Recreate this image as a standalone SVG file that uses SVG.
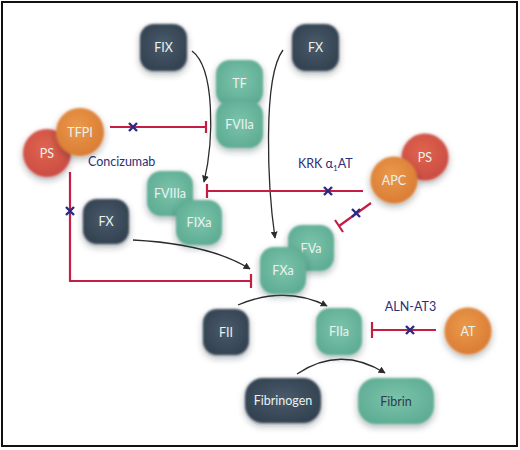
<svg xmlns="http://www.w3.org/2000/svg" width="520" height="450" viewBox="0 0 520 450">
<defs>
<style>
.lbl{font-family:Lato,"Open Sans","Liberation Sans",sans-serif;font-size:12.5px;text-anchor:middle;dominant-baseline:central}
.lw{fill:#eaf2f0}
.ld{fill:#2e3d4a}
.drug{font-family:Lato,"Open Sans","Liberation Sans",sans-serif;font-size:12.5px;fill:#2f2d78}
.dark{fill:url(#gDark);filter:url(#sh)}
.green{fill:url(#gGreen);filter:url(#sh)}
.orange{fill:url(#gOrange);filter:url(#sh)}
.red{fill:url(#gRed);filter:url(#sh)}
.arr{fill:none;stroke:#2b2b2b;stroke-width:1.3;marker-end:url(#ah)}
.inh{fill:none;stroke:#c41e45;stroke-width:2.2}
.x{stroke:#2b2a80;stroke-width:2.4;stroke-linecap:butt}
</style>
<radialGradient id="gDark" cx="50%" cy="45%" r="65%"><stop offset="0" stop-color="#4a5b6b"/><stop offset="1" stop-color="#2f3e4d"/></radialGradient>
<radialGradient id="gGreen" cx="50%" cy="45%" r="65%"><stop offset="0" stop-color="#7cc4ac"/><stop offset="1" stop-color="#5aa990"/></radialGradient>
<radialGradient id="gOrange" cx="45%" cy="40%" r="65%"><stop offset="0" stop-color="#ea9a4c"/><stop offset="1" stop-color="#d97a32"/></radialGradient>
<radialGradient id="gRed" cx="45%" cy="40%" r="65%"><stop offset="0" stop-color="#e0654f"/><stop offset="1" stop-color="#c94a42"/></radialGradient>
<filter id="sh" x="-40%" y="-40%" width="180%" height="190%">
<feGaussianBlur in="SourceGraphic" stdDeviation="0.8" result="soft"/>
<feGaussianBlur in="SourceAlpha" stdDeviation="3.5" result="b"/>
<feOffset in="b" dy="2.5" result="o"/>
<feFlood flood-color="#1a2a30" flood-opacity="0.35"/>
<feComposite in2="o" operator="in" result="s"/>
<feMerge><feMergeNode in="s"/><feMergeNode in="soft"/></feMerge>
</filter>
<marker id="ah" viewBox="0 0 10 10" refX="9" refY="5" markerWidth="7" markerHeight="7" orient="auto" markerUnits="userSpaceOnUse"><path d="M0,0 L10,5 L0,10 z" fill="#2b2b2b"/></marker>
</defs>
<rect x="2" y="2" width="515" height="444" fill="#fff" stroke="#111" stroke-width="2"/>

<g id="connectors">
<path class="arr" d="M192,51 C215,68 214,140 204,182"/>
<path class="arr" d="M283,50 C262,78 268,190 275,238"/>
<path class="arr" d="M133,240 Q210,244 250,269"/>
<path class="arr" d="M238,305 Q285,285 327,306"/>
<path class="arr" d="M297,374 Q340,345 385,373"/>
<path class="inh" d="M110,127 H206 M206,121 V133"/>
<path class="x" d="M129,123 L137,131 M137,123 L129,131"/>
<path class="inh" d="M363,191 H207 M207,184 V198"/>
<path class="x" d="M324,187 L332,195 M332,187 L324,195"/>
<path class="inh" d="M371,203 L339,226 M335,220 L343,232"/>
<path class="x" d="M352,209 L360,217 M360,209 L352,217"/>
<path class="inh" d="M70,172 V281 H251 M251,274 V288"/>
<path class="x" d="M66,207 L74,215 M74,207 L66,215"/>
<path class="inh" d="M436,330 H372 M372,322 V338"/>
<path class="x" d="M406,326 L414,334 M414,326 L406,334"/>
</g>

<g id="FIX"><rect class="dark" x="140" y="24" width="47" height="47" rx="14"/><text class="lbl lw" x="163.5" y="47.5">FIX</text></g>
<g id="FX_top"><rect class="dark" x="292" y="24" width="47" height="47" rx="14"/><text class="lbl lw" x="315.5" y="47.5">FX</text></g>
<g id="TF"><rect class="green" x="216" y="60" width="47" height="46" rx="14"/><text class="lbl lw" x="239.5" y="83">TF</text></g>
<g id="FVIIa"><rect class="green" x="216" y="101" width="47" height="47" rx="14"/><text class="lbl lw" x="239.5" y="124.5">FVIIa</text></g>
<g id="PS_left"><circle class="red" cx="47" cy="153" r="24"/><text class="lbl lw" x="47" y="153">PS</text></g>
<g id="TFPI"><circle class="orange" cx="80" cy="132" r="24"/><text class="lbl lw" x="80" y="132">TFPI</text></g>
<text class="drug" x="88" y="166">Concizumab</text>
<g id="FX_mid"><rect class="dark" x="83" y="199" width="46" height="45" rx="14"/><text class="lbl lw" x="106" y="221.5">FX</text></g>
<g id="FVIIIa"><rect class="green" x="147" y="171" width="46" height="45" rx="14"/><text class="lbl lw" x="170" y="193.5">FVIIIa</text></g>
<g id="FIXa"><rect class="green" x="176" y="200" width="46" height="45" rx="14"/><text class="lbl lw" x="199" y="222.5">FIXa</text></g>
<text class="drug" x="298" y="168">KRK α<tspan font-size="8" dy="3">1</tspan><tspan dy="-3">AT</tspan></text>
<g id="PS_right"><circle class="red" cx="425" cy="157" r="23.5"/><text class="lbl lw" x="425" y="157">PS</text></g>
<g id="APC"><circle class="orange" cx="394" cy="180" r="23.5"/><text class="lbl lw" x="394" y="180">APC</text></g>
<g id="FVa"><rect class="green" x="288" y="225" width="46" height="46" rx="14"/><text class="lbl lw" x="311" y="248">FVa</text></g>
<g id="FXa"><rect class="green" x="260" y="247" width="46" height="47" rx="14"/><text class="lbl lw" x="283" y="270.5">FXa</text></g>
<g id="FII"><rect class="dark" x="203" y="309" width="46" height="46" rx="14"/><text class="lbl lw" x="226" y="332">FII</text></g>
<g id="FIIa"><rect class="green" x="316" y="308" width="46" height="47" rx="14"/><text class="lbl lw" x="339" y="331.5">FIIa</text></g>
<text class="drug" x="410.5" y="311" text-anchor="middle">ALN-AT3</text>
<g id="AT"><circle class="orange" cx="468" cy="331" r="23.5"/><text class="lbl lw" x="468" y="331">AT</text></g>
<g id="Fibrinogen"><rect class="dark" x="245" y="378" width="76" height="45" rx="18"/><text class="lbl lw" x="283" y="400.5">Fibrinogen</text></g>
<g id="Fibrin"><rect class="green" x="358" y="378" width="76" height="46" rx="18"/><text class="lbl ld" x="396" y="401">Fibrin</text></g>
</svg>
